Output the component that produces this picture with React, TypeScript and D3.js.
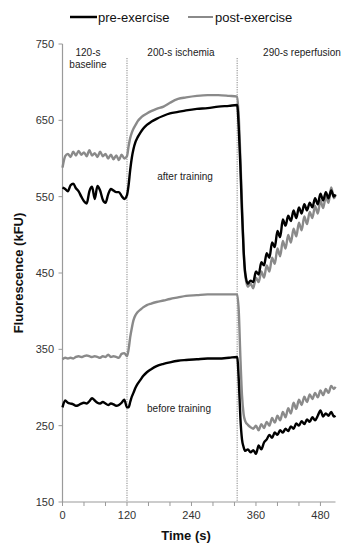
import * as d3 from "d3";

// time points (s), shared by all four traces
const times = [
  0, 5, 10, 15, 20, 25, 30, 35, 40, 45, 50, 55, 60, 65, 70, 75, 80, 85, 90, 95, 100, 105, 110, 115, 120,
  123, 126, 129, 132, 136, 140, 145, 150, 157, 165, 175, 188, 200, 215, 230, 250, 270, 290, 310, 325,
  328, 331, 334, 337, 340, 345, 350, 355, 360, 365, 370, 375, 380, 385, 390, 395, 400, 405, 410, 415,
  420, 425, 430, 435, 440, 445, 450, 455, 460, 465, 470, 475, 480, 485, 490, 495, 500, 505, 508,
];

// after training
const afterPre = [
  562, 560, 557, 565, 567, 561, 557, 550, 544, 541, 557, 563, 547, 564, 558, 546, 542, 553, 560, 558, 556, 556, 551, 547, 552,
  565, 585, 601, 612, 622, 628, 634, 639, 644, 648, 652, 656, 659, 661, 663, 665, 666, 668, 669, 670,
  640, 590, 530, 480, 450, 436, 440, 438, 452, 448, 464, 460, 476, 470, 490, 484, 505, 497, 520, 512,
  525, 518, 532, 522, 536, 528, 540, 532, 542, 536, 548, 540, 554, 545, 556, 548, 558, 550, 553,
];
const afterPost = [
  588, 603, 606, 602, 609, 604, 610, 605, 608, 603, 611, 604, 607, 602, 609, 603, 606, 600, 605, 599, 604, 598, 605, 600, 603,
  616, 627, 634, 639, 644, 649, 653, 656, 659, 662, 665, 668, 673, 678, 680, 682, 683, 683, 682, 681,
  655, 600, 540, 480, 448, 432, 436, 430, 444, 438, 452, 444, 460, 452, 470, 462, 482, 472, 492, 482,
  500, 490, 508, 498, 516, 506, 524, 514, 530, 522, 538, 528, 545, 535, 550, 542, 562, 548, 552,
];

// before training
const beforePre = [
  274, 283, 280, 279, 278, 276, 277, 279, 280, 279, 282, 286, 283, 280, 279, 281, 279, 277, 279, 278, 276, 277, 280, 284, 274,
  274, 281, 288, 293, 300, 305, 310, 315, 320, 324, 328, 331, 333, 335, 336, 337, 338, 338, 339, 340,
  310, 260, 232, 222, 217, 219, 215, 218, 213, 224, 219, 228, 232, 238, 234, 241, 238, 244, 241, 246,
  243, 249, 246, 253, 250, 256, 252, 258, 255, 261, 257, 263, 270, 262, 266, 263, 268, 262, 263,
];
const beforePost = [
  337, 339, 338, 339, 338, 340, 341, 340, 341, 342, 341, 340, 341, 340, 339, 341, 340, 343, 340, 341, 340, 339, 344, 345, 341,
  350, 366, 378, 388, 395, 399, 402, 405, 408, 410, 412, 414, 416, 418, 420, 421, 422, 422, 422, 422,
  400, 340, 290, 265, 256, 251, 248, 246, 250, 244, 252, 247, 255, 250, 260, 254, 263, 257, 268, 261,
  273, 266, 280, 272, 284, 277, 288, 281, 291, 285, 293, 287, 296, 290, 298, 293, 302, 298, 301,
];

const xTicks = [0, 40, 80, 120, 160, 200, 240, 280, 320, 360, 400, 440, 480];
const xLabels = [0, 120, 240, 360, 480];
const yTicks = [150, 250, 350, 450, 550, 650, 750];
const phaseLines = [120, 325];

const W = 352;
const H = 550;
const FONT = "Arial, 'Liberation Sans', sans-serif";
const AXIS = "#9a9a9a";

export default function App() {
  const x = d3.scaleLinear().domain([0, 508]).range([62.5, 335.5]);
  const y = d3.scaleLinear().domain([150, 750]).range([502, 44]);
  const line = d3
    .line<number>()
    .x((_, i) => x(times[i]))
    .y((d) => y(d))
    .curve(d3.curveMonotoneX);

  const series = [
    { data: beforePost, color: "#8a8a8a" },
    { data: afterPost, color: "#8a8a8a" },
    { data: beforePre, color: "#000" },
    { data: afterPre, color: "#000" },
  ];

  return (
    <svg
      width={W}
      height={H}
      style={{ position: "absolute", left: 0, top: 0, background: "#fff" }}
      fontFamily={FONT}
    >
      {/* legend */}
      <line x1={70} x2={97} y1={17} y2={17} stroke="#000" strokeWidth={2.5} />
      <text x={98} y={21.5} fontSize={13} fill="#111">pre-exercise</text>
      <line x1={188} x2={213} y1={17} y2={17} stroke="#8a8a8a" strokeWidth={2} />
      <text x={215} y={21.5} fontSize={13} fill="#111">post-exercise</text>

      {/* phase separators */}
      {phaseLines.map((t) => (
        <line key={t} x1={x(t)} x2={x(t)} y1={58} y2={502} stroke="#666" strokeWidth={0.8} strokeDasharray="1.2,1.2" />
      ))}

      {/* axes */}
      <line x1={x(0)} x2={x(0)} y1={y(750)} y2={y(150)} stroke={AXIS} strokeWidth={1.2} />
      <line x1={x(0)} x2={x(508)} y1={y(150)} y2={y(150)} stroke={AXIS} strokeWidth={1.2} />
      {yTicks.map((v) => (
        <g key={v}>
          <line x1={x(0) - 4} x2={x(0)} y1={y(v)} y2={y(v)} stroke={AXIS} strokeWidth={1} />
          <text x={54} y={y(v) + 4} fontSize={11} textAnchor="end" fill="#333">{v}</text>
        </g>
      ))}
      {xTicks.map((v) => (
        <line key={v} x1={x(v)} x2={x(v)} y1={y(150)} y2={y(150) + 4} stroke={AXIS} strokeWidth={1} />
      ))}
      {xLabels.map((v) => (
        <text key={v} x={x(v)} y={519} fontSize={11} textAnchor="middle" fill="#333">{v}</text>
      ))}

      <text x={186} y={540} fontSize={13} fontWeight="bold" textAnchor="middle" fill="#111">Time (s)</text>
      <text
        transform="translate(23,273) rotate(-90)"
        fontSize={13}
        fontWeight="bold"
        textAnchor="middle"
        fill="#111"
      >
        Fluorescence (kFU)
      </text>

      {/* phase labels */}
      <g fontSize={10} fill="#222" textAnchor="middle">
        <text x={88} y={56}>120-s</text>
        <text x={88} y={68}>baseline</text>
        <text x={181} y={56}>200-s ischemia</text>
        <text x={302} y={56}>290-s reperfusion</text>
        <text x={185} y={180}>after training</text>
        <text x={179} y={412}>before training</text>
      </g>

      {/* traces */}
      {series.map((s, i) => (
        <path key={i} d={line(s.data) ?? ""} fill="none" stroke={s.color} strokeWidth={2.4} strokeLinejoin="round" />
      ))}
    </svg>
  );
}
